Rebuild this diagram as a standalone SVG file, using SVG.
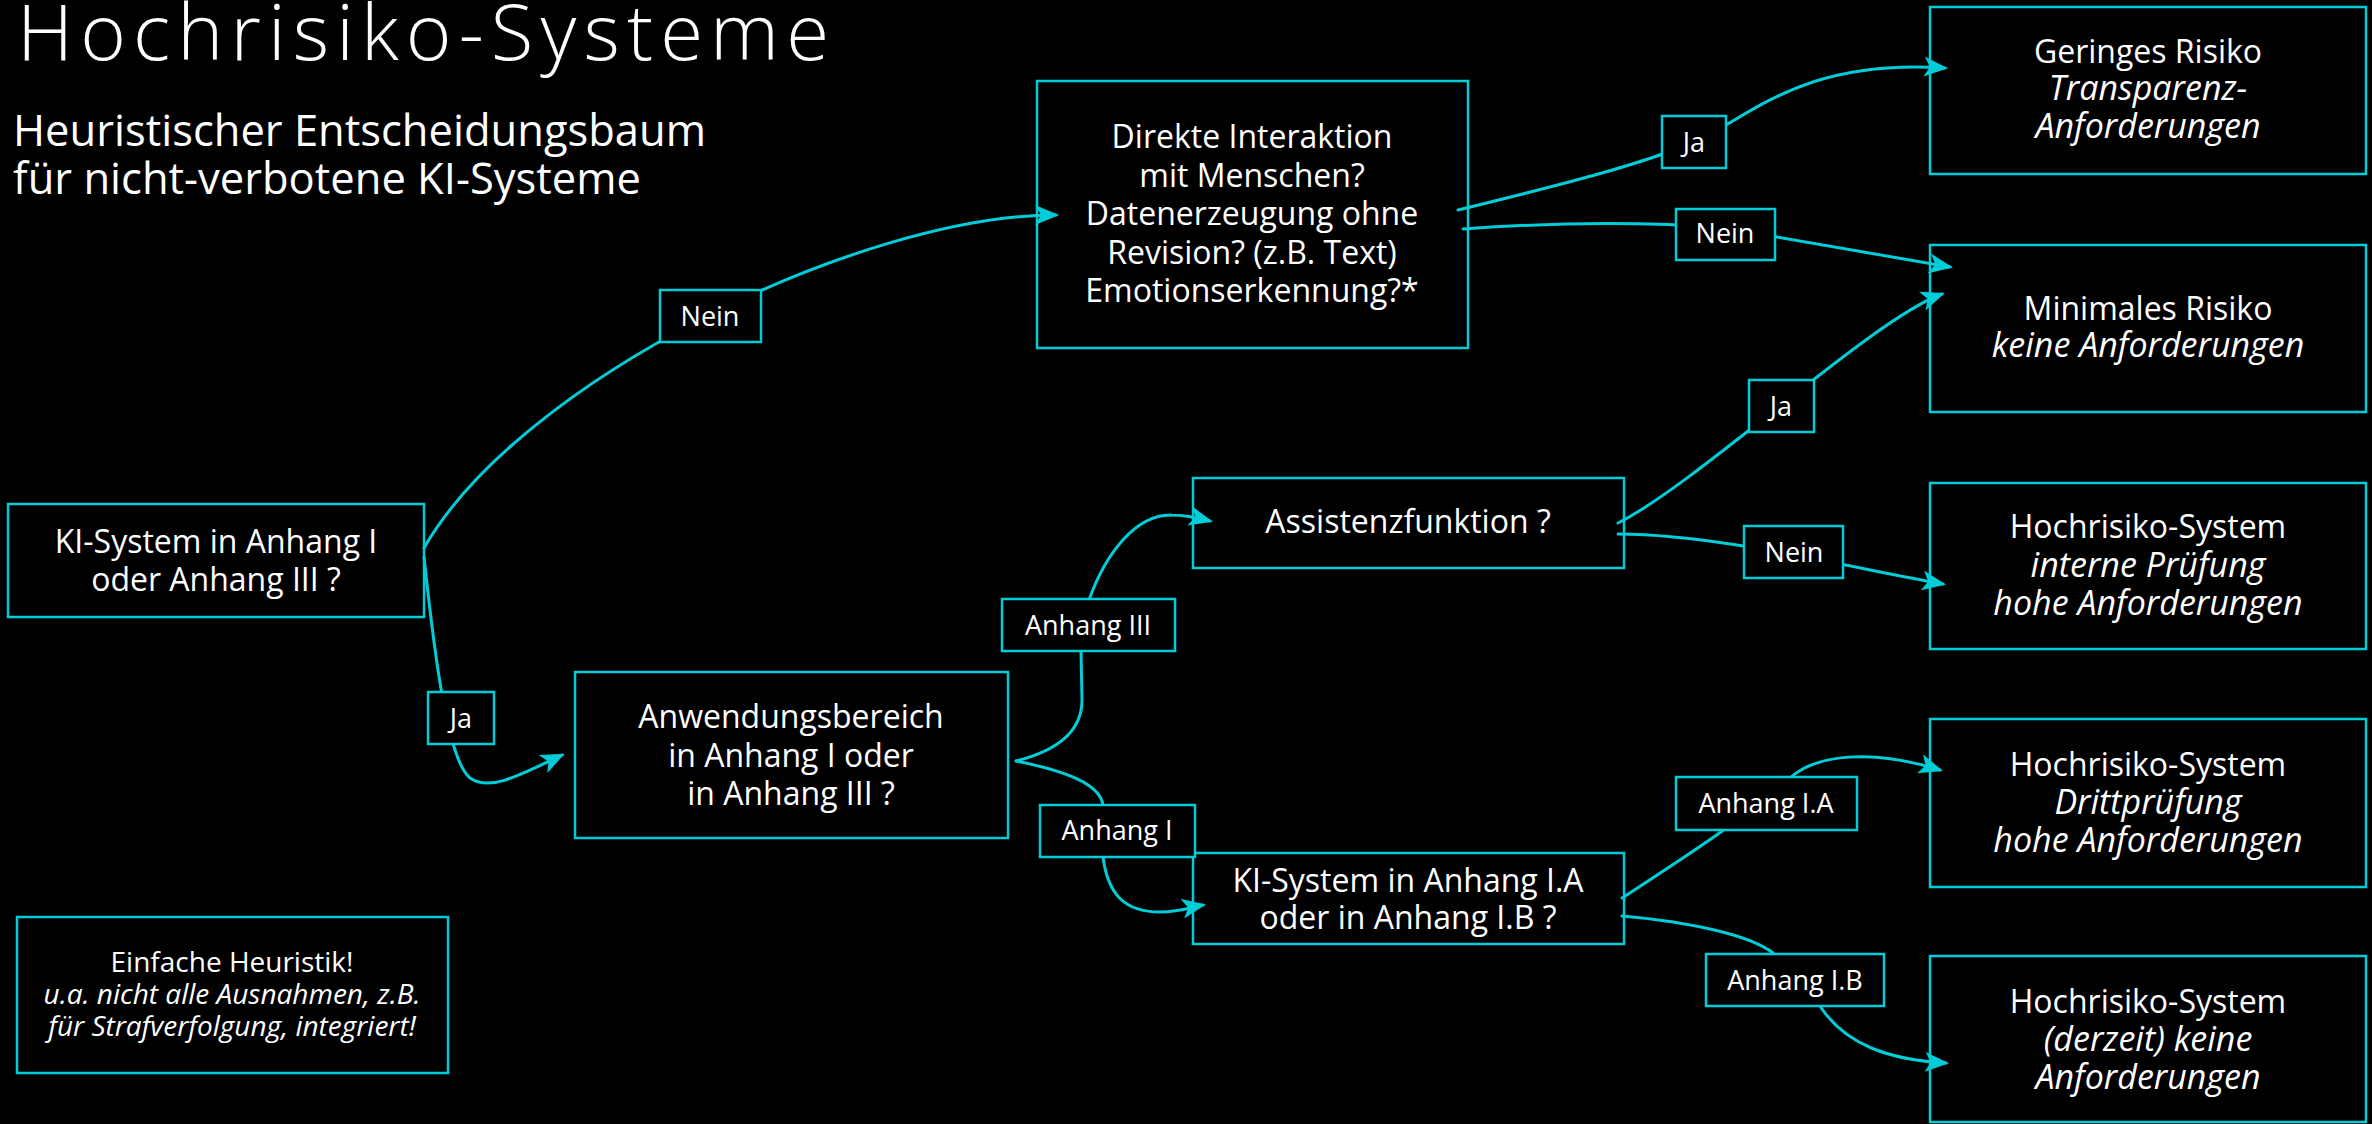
<svg xmlns="http://www.w3.org/2000/svg" width="2372" height="1124" viewBox="0 0 2372 1124">
<defs>
<marker id="arr" markerUnits="userSpaceOnUse" markerWidth="24" markerHeight="20" viewBox="0 0 24 20" refX="21" refY="10" orient="auto">
<path d="M0,0 L24,10 L0,20 L6,10 Z" fill="#00CDD8"/>
</marker>
<style>
.box{fill:#000;stroke:#00CDD8;stroke-width:2.5}
.lbl{fill:#000;stroke:#00CDD8;stroke-width:2.5}
.con{fill:none;stroke:#00CDD8;stroke-width:3;stroke-linecap:round}
text{font-family:"Open Sans","Noto Sans","Liberation Sans",sans-serif;fill:#fff}
.t{font-size:32px;text-anchor:middle}
.l{font-size:27px;text-anchor:middle}
.n{font-size:28px;text-anchor:middle}
.i{font-style:italic}
.t.i{font-size:34px}
</style>
</defs>
<rect width="2372" height="1124" fill="#000"/>

<g id="title">
<text x="17" y="60" font-size="78" font-weight="300" textLength="812" lengthAdjust="spacing">Hochrisiko-Systeme</text>
<text x="13" y="146" font-size="43.5">Heuristischer Entscheidungsbaum</text>
<text x="13" y="194" font-size="43.5">für nicht-verbotene KI-Systeme</text>
</g>

<g id="node-ki">
<rect class="box" x="8" y="504" width="416" height="113"/>
<text class="t" x="216" y="553">KI-System in Anhang I</text>
<text class="t" x="216" y="591">oder Anhang III ?</text>
</g>

<g id="node-direkte">
<rect class="box" x="1037" y="81" width="431" height="267"/>
<text class="t" x="1252" y="148">Direkte Interaktion</text>
<text class="t" x="1252" y="187">mit Menschen?</text>
<text class="t" x="1252" y="225">Datenerzeugung ohne</text>
<text class="t" x="1252" y="264">Revision? (z.B. Text)</text>
<text class="t" x="1252" y="302">Emotionserkennung?*</text>
</g>

<g id="node-anwendung">
<rect class="box" x="575" y="672" width="433" height="166"/>
<text class="t" x="791" y="728">Anwendungsbereich</text>
<text class="t" x="791" y="767">in Anhang I oder</text>
<text class="t" x="791" y="805">in Anhang III ?</text>
</g>

<g id="node-assistenz">
<rect class="box" x="1193" y="478" width="431" height="90"/>
<text class="t" x="1408" y="533">Assistenzfunktion ?</text>
</g>

<g id="node-kiab">
<rect class="box" x="1193" y="853" width="431" height="91"/>
<text class="t" x="1408" y="892">KI-System in Anhang I.A</text>
<text class="t" x="1408" y="929">oder in Anhang I.B ?</text>
</g>

<g id="node-gering">
<rect class="box" x="1930" y="7" width="436" height="167"/>
<text class="t" x="2148" y="63">Geringes Risiko</text>
<text class="t i" x="2148" y="100">Transparenz-</text>
<text class="t i" x="2148" y="138">Anforderungen</text>
</g>

<g id="node-minimal">
<rect class="box" x="1930" y="245" width="436" height="167"/>
<text class="t" x="2148" y="320">Minimales Risiko</text>
<text class="t i" x="2148" y="357">keine Anforderungen</text>
</g>

<g id="node-intern">
<rect class="box" x="1930" y="483" width="436" height="166"/>
<text class="t" x="2148" y="538">Hochrisiko-System</text>
<text class="t i" x="2148" y="577">interne Prüfung</text>
<text class="t i" x="2148" y="615">hohe Anforderungen</text>
</g>

<g id="node-dritt">
<rect class="box" x="1930" y="719" width="436" height="168"/>
<text class="t" x="2148" y="776">Hochrisiko-System</text>
<text class="t i" x="2148" y="814">Drittprüfung</text>
<text class="t i" x="2148" y="852">hohe Anforderungen</text>
</g>

<g id="node-derzeit">
<rect class="box" x="1930" y="956" width="436" height="166"/>
<text class="t" x="2148" y="1013">Hochrisiko-System</text>
<text class="t i" x="2148" y="1051">(derzeit) keine</text>
<text class="t i" x="2148" y="1089">Anforderungen</text>
</g>

<g id="node-note">
<rect class="box" x="17" y="917" width="431" height="156"/>
<text class="n" x="232" y="972">Einfache Heuristik!</text>
<text class="n i" x="232" y="1004">u.a. nicht alle Ausnahmen, z.B.</text>
<text class="n i" x="232" y="1036">für Strafverfolgung, integriert!</text>
</g>

<g id="connectors">
<path class="con" marker-end="url(#arr)" d="M424,548 C520,380 860,215 1056,215"/>
<path class="con" marker-end="url(#arr)" d="M424,557 C435,660 448,760 470,778 C490,792 520,775 562,755"/>
<path class="con" marker-end="url(#arr)" d="M1458,210 C1560,185 1640,165 1694,142 C1748,119 1800,58 1945,68"/>
<path class="con" marker-end="url(#arr)" d="M1463,229 C1560,222 1650,222 1725,228 L1950,267"/>
<path class="con" marker-end="url(#arr)" d="M1016,761 C1060,750 1082,730 1082,700 L1081,651 L1089,600 C1105,555 1135,514 1172,515 C1186,515 1198,518 1210,521"/>
<path class="con" marker-end="url(#arr)" d="M1016,761 C1070,772 1100,785 1103,805 L1103,857 C1108,895 1125,912 1160,912 C1180,912 1192,907 1203,905"/>
<path class="con" marker-end="url(#arr)" d="M1618,523 C1698,483 1872,319 1942,294"/>
<path class="con" marker-end="url(#arr)" d="M1618,534 C1720,534 1860,570 1943,584"/>
<path class="con" marker-end="url(#arr)" d="M1622,898 C1680,860 1750,815 1790,778 C1815,755 1870,748 1940,770"/>
<path class="con" marker-end="url(#arr)" d="M1622,916 C1690,922 1750,935 1773,953 L1820,1006 C1845,1045 1890,1060 1946,1063"/>
</g>

<g id="label-nein1"><rect class="lbl" x="660" y="290" width="101" height="52"/><text class="l" x="710" y="326">Nein</text></g>
<g id="label-ja1"><rect class="lbl" x="428" y="692" width="66" height="52"/><text class="l" x="461" y="728">Ja</text></g>
<g id="label-ja2"><rect class="lbl" x="1662" y="116" width="64" height="52"/><text class="l" x="1694" y="152">Ja</text></g>
<g id="label-nein2"><rect class="lbl" x="1676" y="209" width="99" height="51"/><text class="l" x="1725" y="243">Nein</text></g>
<g id="label-ja3"><rect class="lbl" x="1749" y="380" width="65" height="52"/><text class="l" x="1781" y="416">Ja</text></g>
<g id="label-nein3"><rect class="lbl" x="1744" y="526" width="99" height="52"/><text class="l" x="1794" y="562">Nein</text></g>
<g id="label-anhang3"><rect class="lbl" x="1002" y="599" width="173" height="52"/><text class="l" x="1088" y="635">Anhang III</text></g>
<g id="label-anhang1"><rect class="lbl" x="1040" y="805" width="155" height="52"/><text class="l" x="1117" y="840">Anhang I</text></g>
<g id="label-anhang1a"><rect class="lbl" x="1676" y="777" width="181" height="53"/><text class="l" x="1766" y="813">Anhang I.A</text></g>
<g id="label-anhang1b"><rect class="lbl" x="1706" y="954" width="178" height="52"/><text class="l" x="1795" y="990">Anhang I.B</text></g>
</svg>
